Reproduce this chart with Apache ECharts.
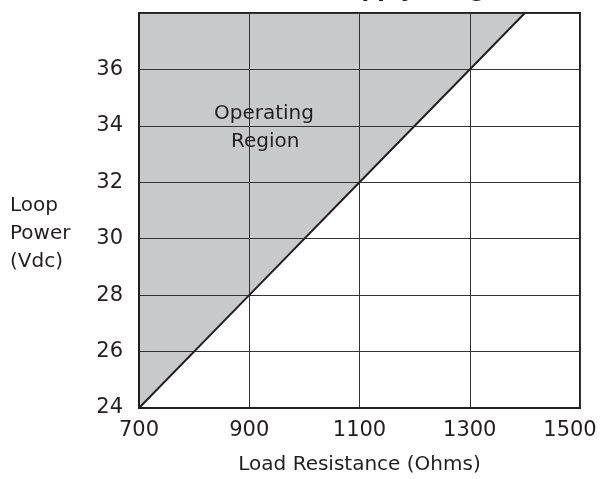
<!DOCTYPE html>
<html>
<head>
<meta charset="utf-8">
<script src="https://cdn.jsdelivr.net/npm/echarts@6/dist/echarts.min.js"></script>
<style>
  html, body { margin: 0; padding: 0; background: #fff; }
  #chart { width: 604px; height: 479px; }
</style>
</head>
<body>
<div id="chart"></div>
<script>
// boundary of the operating region (load in ohms, minimum supply in volts)
var boundaryLoad = [700, 900, 1100, 1300, 1400];
var boundaryVolts = [24, 28, 32, 36, 38];

// axis ranges
var loadMin = 700, loadMax = 1500, loadStep = 200;
var voltMin = 24, voltMax = 38, voltStep = 2;

var FONT = 'DejaVu Sans';

var chart = echarts.init(document.getElementById('chart'));

var linePts = boundaryLoad.map(function (x, i) { return [x, boundaryVolts[i]]; });
// shaded area = everything above the boundary line
var regionPts = [[loadMin, voltMin]].concat(linePts.slice(1)).concat([[loadMin, voltMax]]);

var option = {
    backgroundColor: '#fff',
    animation: false,
    title: {
        text: 'Power Supply Range',
        left: 240,
        top: -25,
        textStyle: { fontFamily: FONT, fontSize: 22, fontWeight: 'bold', color: '#231f20' }
    },
    grid: {
        left: 139, right: 24, top: 13, bottom: 71,
        outerBoundsMode: 'none',
        show: true,
        borderColor: '#231f20',
        borderWidth: 2
    },
    xAxis: {
        type: 'value',
        min: loadMin, max: loadMax, interval: loadStep,
        name: 'Load Resistance (Ohms)',
        nameLocation: 'middle',
        nameGap: 47,
        nameTextStyle: { fontFamily: FONT, fontSize: 20, color: '#231f20' },
        axisLine: { lineStyle: { color: '#231f20', width: 2 } },
        axisTick: { show: false },
        axisLabel: {
            fontFamily: FONT, fontSize: 21, color: '#231f20', margin: 12,
            formatter: function (v) {
                // last label sits a little left of the frame edge
                return v === loadMax ? '{last|' + v + '}' : String(v);
            },
            rich: {
                last: { fontFamily: FONT, fontSize: 21, color: '#231f20', padding: [0, 20, 0, 0] }
            }
        },
        splitLine: { lineStyle: { color: '#333', width: 1 } }
    },
    yAxis: {
        type: 'value',
        min: voltMin, max: voltMax, interval: voltStep,
        axisLine: { show: true, lineStyle: { color: '#231f20', width: 2 } },
        axisTick: { show: false },
        axisLabel: { fontFamily: FONT, fontSize: 21, color: '#231f20', margin: 16, showMaxLabel: false },
        splitLine: { lineStyle: { color: '#333', width: 1 } }
    },
    graphic: [
        {
            type: 'text', left: 10, top: 192,
            style: { text: 'Loop\nPower\n(Vdc)', font: '20px "DejaVu Sans"', lineHeight: 28, fill: '#231f20' }
        },
        {
            type: 'text', left: 214, top: 104, z: 3,
            style: { text: 'Operating', font: '20px "DejaVu Sans"', fill: '#231f20' }
        },
        {
            type: 'text', left: 231, top: 132, z: 3,
            style: { text: 'Region', font: '20px "DejaVu Sans"', fill: '#231f20' }
        }
    ],
    series: [
        {
            type: 'custom',
            z: -1,
            silent: true,
            data: [0],
            renderItem: function (params, api) {
                var pts = regionPts.map(function (p) { return api.coord(p); });
                return {
                    type: 'polygon',
                    shape: { points: pts },
                    style: { fill: '#c8c9cb' }
                };
            }
        },
        {
            type: 'line',
            data: linePts,
            symbol: 'none',
            lineStyle: { color: '#231f20', width: 2 },
            z: 5
        }
    ]
};

chart.setOption(option);
</script>
</body>
</html>
